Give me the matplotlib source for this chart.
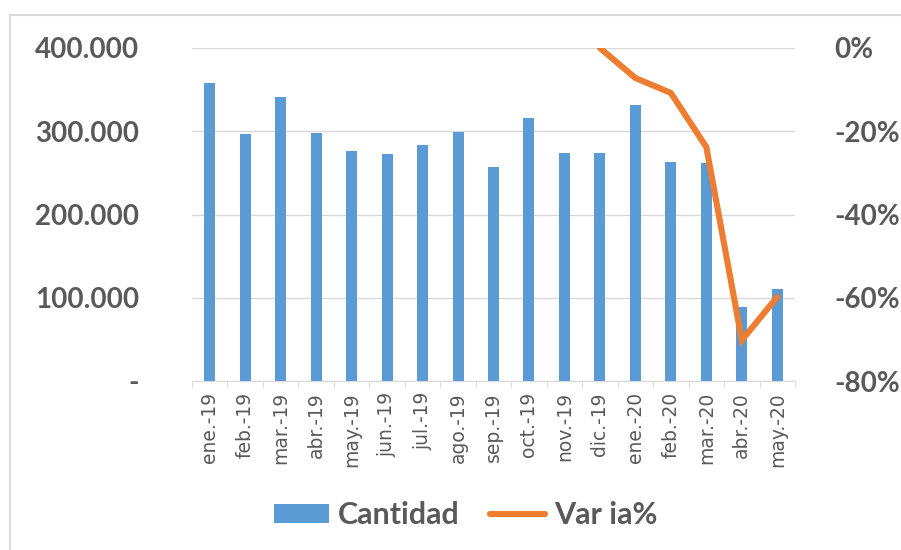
import numpy as np
import matplotlib.pyplot as plt
from matplotlib.patches import Rectangle
from matplotlib.ticker import FuncFormatter

meses = ['ene.-19', 'feb.-19', 'mar.-19', 'abr.-19', 'may.-19', 'jun.-19',
         'jul.-19', 'ago.-19', 'sep.-19', 'oct.-19', 'nov.-19', 'dic.-19',
         'ene.-20', 'feb.-20', 'mar.-20', 'abr.-20', 'may.-20']
cantidad = [358000, 297000, 341000, 298000, 276000, 273000,
            283000, 299000, 257000, 316000, 274000, 274000,
            332000, 263000, 262000, 89000, 110000]
# variacion interanual, solo desde dic.-19
var_ia = [np.nan] * 11 + [0.0, -7.2, -10.8, -23.8, -70.2, -59.8]

gris = '#595959'
azul = '#5B9BD5'
naranja = '#ED7D31'

fig = plt.figure(figsize=(9.01, 5.5), dpi=100)
ax = fig.add_axes([192 / 901, 1 - 381 / 550, (795 - 192) / 901, (381 - 48) / 550])
ax2 = ax.twinx()

x = np.arange(len(meses))
ax.bar(x, cantidad, width=0.31, color=azul, label='Cantidad', zorder=2)
ax2.plot(x, var_ia, color=naranja, lw=4.4, label='Var ia%', solid_capstyle='round',
         solid_joinstyle='miter')

ax.set_xlim(-0.5, len(meses) - 0.5)
ax.set_ylim(0, 400000)
ax.set_yticks([0, 100000, 200000, 300000, 400000])
ax.yaxis.set_major_formatter(FuncFormatter(
    lambda v, p: '-' if v == 0 else f'{int(v):,}'.replace(',', '.')))
ax2.set_ylim(-80, 0)
ax2.set_yticks([-80, -60, -40, -20, 0])
ax2.yaxis.set_major_formatter(FuncFormatter(lambda v, p: f'{int(v)}%'))

ax.grid(axis='y', color='#D9D9D9', lw=1, zorder=0)
ax.set_axisbelow(True)
for a in (ax, ax2):
    for s in a.spines.values():
        s.set_visible(False)
ax.spines['bottom'].set_visible(True)
ax.spines['bottom'].set_color('#D9D9D9')

ax.set_xticks(x)
ax.set_xticklabels(meses, rotation=90, fontsize=13.5, color=gris, family='DejaVu Sans')
ax.set_xticks(np.arange(-0.5, len(meses)), minor=True)
ax.tick_params(axis='x', which='major', length=0, pad=8)
ax.tick_params(axis='x', which='minor', length=5, color='#D9D9D9')
ax.tick_params(axis='y', length=0, pad=38)
ax2.tick_params(axis='y', length=0, pad=28)
for lab in ax.get_yticklabels() + ax2.get_yticklabels():
    lab.set_fontsize(20)
    lab.set_fontweight('bold')
    lab.set_color(gris)
    lab.set_family('Lato')

h1, l1 = ax.get_legend_handles_labels()
h2, l2 = ax2.get_legend_handles_labels()
fig.legend(h1 + h2, l1 + l2, loc='center', bbox_to_anchor=(0.517, 1 - 515 / 550),
           ncol=2, frameon=False, handlelength=1.8, handleheight=0.6,
           columnspacing=1.0, handletextpad=0.3,
           prop={'family': 'Lato', 'weight': 'bold', 'size': 22},
           labelcolor=gris)

# marco gris del recuadro
fig.patches.append(Rectangle((10 / 901, -0.1), 1.2, 1 - 15 / 550 + 0.1,
                             transform=fig.transFigure, fill=False,
                             edgecolor='#D9D9D9', lw=1.5))

fig.savefig('out.png', dpi=100)
